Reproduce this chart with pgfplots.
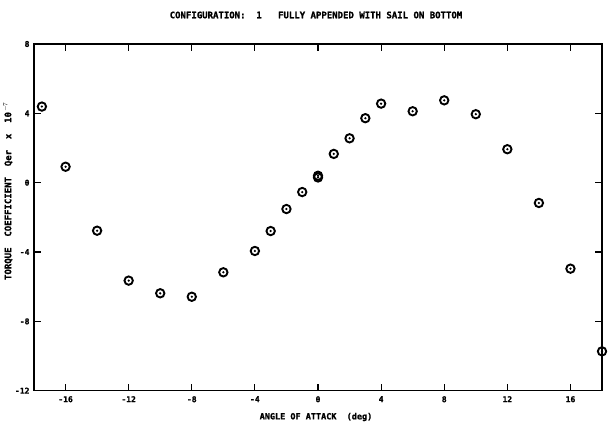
\documentclass[border=0pt]{standalone}
\usepackage{pgfplots}
\pgfplotsset{compat=1.18}
\usepackage{fontspec}
\newfontfamily\plotfont{DejaVu Sans Mono}[BoldFeatures={FakeBold=1.2}]
\pgfdeclareplotmark{odot}{%
  \pgfpathcircle{\pgfpointorigin}{\pgfplotmarksize}\pgfusepathqstroke
  \pgfpathcircle{\pgfpointorigin}{0.3\pgfplotmarksize}\pgfusepathqfill}
\begin{document}
\begin{tikzpicture}
\path[use as bounding box] (0,0) rectangle (609pt,428pt);
\begin{axis}[
  at={(34pt,37.3pt)}, anchor=south west,
  scale only axis, width=568pt, height=346.7pt,
  xmin=-18, xmax=18, ymin=-12, ymax=8,
  xtick={-16,-12,-8,-4,0,4,8,12,16},
  xticklabels={-16,-12,-8,-4,0,4,8,12,16},
  ytick={-12,-8,-4,0,4,8},
  yticklabels={-12,-8,-4,0,4,8},
  tick align=inside, major tick length=7pt,
  tick style={line width=1.2pt, black},
  xticklabel style={font=\plotfont\bfseries\fontsize{8}{9}\selectfont, yshift=-2pt},
  yticklabel style={font=\plotfont\bfseries\fontsize{8}{9}\selectfont, xshift=-1pt},
  axis line style={line width=1.4pt},
  minor tick num=0,
  clip=false,
]
\addplot[only marks, mark=odot, mark size=4.2pt, mark options={line width=1.9pt, black}] table {
x y
-17.5 4.39
-16 0.92
-14 -2.77
-12 -5.65
-10 -6.38
-8 -6.58
-6 -5.17
-4 -3.94
-3 -2.79
-2 -1.52
-1 -0.54
0 0.30
0 0.40
1 1.66
2 2.56
3 3.72
4 4.56
6 4.12
8 4.75
10 3.95
12 1.93
14 -1.17
16 -4.96
18 -9.73
};
\end{axis}
\node[font=\plotfont\bfseries\fontsize{9}{10}\selectfont] at (316pt,413pt) {CONFIGURATION:~~1~~~FULLY APPENDED WITH SAIL ON BOTTOM};
\node[font=\plotfont\bfseries\fontsize{8.5}{10}\selectfont] at (316pt,11pt) {ANGLE OF ATTACK~~(deg)};
\node[font=\plotfont\bfseries\fontsize{9}{10}\selectfont, rotate=90] at (8pt,237pt) {TORQUE~~COEFFICIENT~~Qer~~x~~10$^{-7}$};
\end{tikzpicture}
\end{document}
